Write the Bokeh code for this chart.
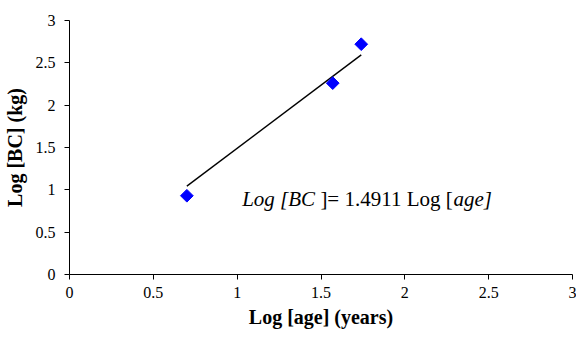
import math
from bokeh.plotting import figure
from bokeh.models import FixedTicker
from bokeh.core.properties import value
from bokeh.embed import file_html
from bokeh.resources import INLINE

# data
log_age = [0.70, 1.57, 1.74]
log_bc = [0.93, 2.26, 2.72]
slope = 1.4911
tick_values = [0, 0.5, 1, 1.5, 2, 2.5, 3]
tick_labels = ["0", "0.5", "1", "1.5", "2", "2.5", "3"]
x_title = "Log [age] (years)"
y_title = "Log [BC] (kg)"
eq_parts = ["Log [BC", "\u00a0]= 1.4911 Log [", "age]"]
eq_styles = ["italic", "normal", "italic"]
eq_anchor = (1.03, 0.89)

FONT = "Liberation Serif"

p = figure(width=576, height=332, x_range=(0, 3), y_range=(0, 3),
           output_backend="svg", toolbar_location=None,
           min_border_left=69, min_border_right=4, min_border_top=20,
           min_border_bottom=58)
p.outline_line_color = None
p.xgrid.visible = False
p.ygrid.visible = False
p.background_fill_color = "white"

for ax in (p.xaxis[0], p.yaxis[0]):
    ax.ticker = FixedTicker(ticks=tick_values)
    ax.major_label_overrides = {v: l for v, l in zip(tick_values, tick_labels)}
    ax.minor_tick_line_color = None
    ax.major_tick_in = 0
    ax.major_tick_out = 5
    ax.axis_line_color = "black"
    ax.major_tick_line_color = "black"
    ax.major_label_text_font = FONT
    ax.major_label_text_font_size = "16px"
    ax.major_label_text_color = "black"
    ax.axis_label_text_font = FONT
    ax.axis_label_text_font_style = "bold"
    ax.axis_label_text_font_size = "20px"
    ax.axis_label_text_color = "black"

p.xaxis.axis_label = x_title
p.yaxis.axis_label = y_title
p.xaxis.major_label_standoff = 7
p.yaxis.major_label_standoff = 9
p.xaxis.axis_label_standoff = 5
p.yaxis.axis_label_standoff = 7

# trend line through origin
xs = [min(log_age), max(log_age)]
ys = [slope * x for x in xs]
p.line(xs, ys, line_color="black", line_width=1.4)

p.scatter(log_age, log_bc, marker="square", angle=math.pi / 4, size=9,
          fill_color="#0000FF", line_color="#0000FF")

# equation (mixed italic / upright pieces)
fs = 21
w1 = 3.473 * fs
w2 = 6.591 * fs
pieces = [(eq_parts[0], eq_styles[0], w1, "right"),
          (eq_parts[1], eq_styles[1], w1, "left"),
          (eq_parts[2], eq_styles[2], w1 + w2, "left")]
for txt, st, off, al in pieces:
    p.text(x=[eq_anchor[0]], y=[eq_anchor[1]], text=[txt], x_offset=off,
           text_font=value(FONT), text_font_style=st,
           text_font_size=f"{fs}px", text_color="black",
           text_baseline="alphabetic", text_align=al)

open("out.html", "w").write(file_html(p, INLINE))
